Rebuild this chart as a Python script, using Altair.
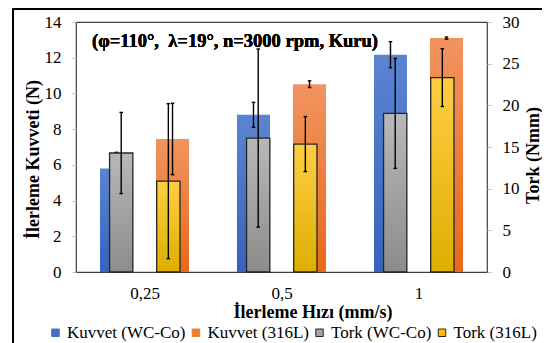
import json
import altair as alt
import pandas as pd

categories = ["0,25", "0,5", "1"]
series_names = ["Kuvvet (WC-Co)", "Kuvvet (316L)", "Tork (WC-Co)", "Tork (316L)"]

kuvvet_wc = [5.8, 8.8, 12.17]
kuvvet_wc_err = [0.9, 0.7, 0.73]
kuvvet_316 = [7.45, 10.52, 13.1]
kuvvet_316_err = [2.0, 0.19, 0.06]
tork_wc = [14.28, 16.07, 19.03]
tork_wc_err = [4.87, 10.69, 6.6]
tork_316 = [10.9, 15.35, 23.33]
tork_316_err = [9.3, 3.3, 3.47]

left_ticks = [0, 2, 4, 6, 8, 10, 12, 14]
right_ticks = [0, 5, 10, 15, 20, 25, 30]

FONT = "'Liberation Serif', 'Times New Roman', 'DejaVu Serif', serif"
CAP = 0.013


def frame(values, errs, lo_off, hi_off):
    rows = []
    for i, (v, e) in enumerate(zip(values, errs)):
        x0 = i + 0.5 + lo_off
        x1 = i + 0.5 + hi_off
        xc = (x0 + x1) / 2
        rows.append(dict(cat=categories[i], value=v, zero=0, lo=v - e, hi=v + e,
                         x0=x0, x1=x1, xc=xc, c0=xc - CAP, c1=xc + CAP))
    return pd.DataFrame(rows)


df_kwc = frame(kuvvet_wc, kuvvet_wc_err, -0.325, -0.084)
df_k316 = frame(kuvvet_316, kuvvet_316_err, 0.084, 0.325)
df_twc = frame(tork_wc, tork_wc_err, -0.255, -0.085)
df_t316 = frame(tork_316, tork_316_err, 0.089, 0.259)


def grad(top, bottom):
    return alt.Gradient(gradient="linear", x1=0, x2=0, y1=0, y2=1,
                        stops=[alt.GradientStop(offset=0, color=top),
                               alt.GradientStop(offset=1, color=bottom)])


label_expr = "%s[round(datum.value - 0.5)]" % json.dumps(categories)
x_axis = alt.Axis(values=[0.5, 1.5, 2.5], labelExpr=label_expr, ticks=False, tickSize=0,
                  domain=False, grid=False, labelFont=FONT, labelFontSize=17,
                  labelColor="black", labelBaseline="alphabetic", labelPadding=26,
                  title="İlerleme Hızı (mm/s)", titleFont=FONT, titleFontSize=18,
                  titleFontWeight="bold", titleColor="black", titleX=236.5, titleY=45,
                  titleAlign="center", titleBaseline="alphabetic")
x_scale = alt.Scale(domain=[0, 3], nice=False, zero=False)

yl_scale = alt.Scale(domain=[0, 14], nice=False)
yr_scale = alt.Scale(domain=[0, 30], nice=False)
yl_axis = alt.Axis(values=left_ticks, grid=False, domain=False, tickSize=4, tickColor="#bfbfbf",
                   labelFont=FONT, labelFontSize=17, labelColor="black", labelPadding=11,
                   title="İlerleme Kuvveti (N)", titleFont=FONT, titleFontSize=18,
                   titleFontWeight="bold", titleColor="black", titleX=-43, titleY=137,
                   titleAlign="center", titleBaseline="middle", orient="left")
yr_axis = alt.Axis(values=right_ticks, grid=False, domain=False, tickSize=4, tickColor="#bfbfbf",
                   labelFont=FONT, labelFontSize=17, labelColor="black", labelPadding=11,
                   title="Tork (Nmm)", titleFont=FONT, titleFontSize=18,
                   titleFontWeight="bold", titleColor="black", titleX=46, titleY=133,
                   titleAngle=270, titleAlign="center", titleBaseline="middle", orient="right")


def bars(df, fill, scale, axis, stroke=None):
    kw = dict(fill=fill)
    if stroke:
        kw.update(stroke=stroke, strokeWidth=1.3)
    return alt.Chart(df).mark_rect(**kw).encode(
        x=alt.X("x0:Q", scale=x_scale, axis=x_axis),
        x2="x1:Q",
        y=alt.Y("value:Q", scale=scale, axis=axis),
        y2="zero:Q",
    )


def errs(df, scale, axis):
    base = alt.Chart(df)
    stem = base.mark_rule(color="black", strokeWidth=1.4).encode(
        x=alt.X("xc:Q", scale=x_scale, axis=x_axis),
        y=alt.Y("lo:Q", scale=scale, axis=axis), y2="hi:Q")
    cap_hi = base.mark_rule(color="black", strokeWidth=1.4).encode(
        x=alt.X("c0:Q", scale=x_scale, axis=x_axis), x2="c1:Q",
        y=alt.Y("hi:Q", scale=scale, axis=axis))
    cap_lo = base.mark_rule(color="black", strokeWidth=1.4).encode(
        x=alt.X("c0:Q", scale=x_scale, axis=x_axis), x2="c1:Q",
        y=alt.Y("lo:Q", scale=scale, axis=axis))
    return [stem, cap_hi, cap_lo]


left = alt.layer(
    bars(df_kwc, grad("#5b84d0", "#3763bf"), yl_scale, yl_axis),
    bars(df_k316, grad("#f19460", "#e8691a"), yl_scale, yl_axis),
    *errs(df_kwc, yl_scale, yl_axis),
    *errs(df_k316, yl_scale, yl_axis),
)
right = alt.layer(
    bars(df_twc, grad("#b8b8b8", "#8c8c8c"), yr_scale, yr_axis, stroke="#262626"),
    bars(df_t316, grad("#ffcd45", "#ddaf00"), yr_scale, yr_axis, stroke="#262626"),
    *errs(df_twc, yr_scale, yr_axis),
    *errs(df_t316, yr_scale, yr_axis),
)
dual = alt.layer(left, right).resolve_scale(y="independent").resolve_axis(y="independent")

legend_df = pd.DataFrame({"series": series_names})
legend_layer = alt.Chart(legend_df).mark_square(opacity=0, size=1).encode(
    color=alt.Color("series:N",
                    scale=alt.Scale(domain=series_names,
                                    range=["#4472c4", "#ed7d31", "#a5a5a5", "#ffc000"]),
                    legend=alt.Legend(title=None, orient="none", legendX=-29, legendY=302,
                                      direction="horizontal", columns=4, symbolType="square",
                                      symbolSize=56, symbolOpacity=1, symbolStrokeWidth=1,
                                      labelFont=FONT, labelFontSize=17, labelColor="black",
                                      labelOffset=3, columnPadding=1.5, labelLimit=300)),
    stroke=alt.Stroke("series:N",
                      scale=alt.Scale(domain=series_names,
                                      range=["#4472c4", "#ed7d31", "#262626", "#262626"]),
                      legend=None),
)

note = alt.Chart(legend_df).mark_text(
    text="(φ=110°,\u00a0 λ=19°, n=3000 rpm, Kuru)", font=FONT, fontSize=18.5, fontWeight="bold",
    align="left", baseline="middle", color="black"
).encode(x=alt.value(16), y=alt.value(19))

outer_frame = alt.Chart(legend_df).mark_rect(
    fillOpacity=0, stroke="black", strokeWidth=1.4
).encode(x=alt.value(-63), x2=alt.value(560), y=alt.value(-13), y2=alt.value(400))

chart = alt.layer(dual, legend_layer, note, outer_frame).properties(
    width=411, height=250, autosize=alt.AutoSizeParams(type="none"),
    padding={"left": 68, "top": 14, "right": 55, "bottom": 71},
).configure_view(stroke="#404040", strokeWidth=1.2)

chart.save("out.html", embed_options={"renderer": "svg", "actions": False})
